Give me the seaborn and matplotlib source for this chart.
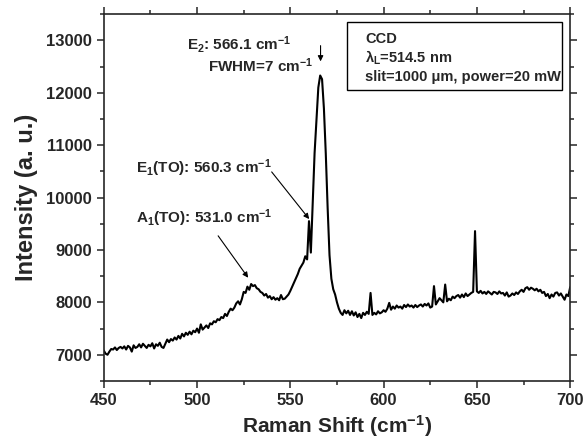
import matplotlib
matplotlib.use("Agg")
import matplotlib.pyplot as plt
from matplotlib.patches import Rectangle
import seaborn as sn
import pandas as pd

sn.set_style("ticks")
plt.rcParams["font.family"] = ["Liberation Sans", "DejaVu Sans"]
plt.rcParams["font.weight"] = "bold"
plt.rcParams["mathtext.fontset"] = "custom"
plt.rcParams["mathtext.rm"] = "Liberation Sans:bold"
plt.rcParams["mathtext.bf"] = "Liberation Sans:bold"
plt.rcParams["mathtext.it"] = "Liberation Sans:bold"
plt.rcParams["mathtext.default"] = "bf"

# Raman shift (cm-1), one point per wavenumber
shift = list(range(450, 701))

# intensity, rows of 10 points
intensity = [
    7080, 7020, 7000, 7060, 7110, 7100, 7140, 7090, 7130, 7150,
    7120, 7160, 7100, 7170, 7140, 7060, 7180, 7130, 7150, 7200,
    7140, 7210, 7170, 7130, 7190, 7160, 7220, 7120, 7200, 7170,
    7230, 7150, 7130, 7210, 7290, 7240, 7300, 7270, 7330, 7290,
    7360, 7310, 7400, 7350, 7420, 7380, 7440, 7390, 7460, 7430,
    7500, 7420, 7580, 7480, 7520, 7560, 7510, 7600, 7580, 7640,
    7620, 7680, 7660, 7720, 7700, 7780, 7740, 7820, 7880, 7850,
    7900, 7980, 8020, 7960, 8060, 8200, 8180, 8300, 8240, 8350,
    8310, 8330, 8270, 8250, 8200, 8180, 8130, 8160, 8090, 8120,
    8060, 8100, 8050, 8080, 8040, 8140, 8060, 8070, 8110, 8150,
    8220, 8300, 8380, 8460, 8540, 8640, 8700, 8760, 8880, 8820,
    9550, 8950, 9900, 10850, 11480, 12100, 12330, 12260, 11700, 10840,
    9800, 8900, 8450, 8250, 8150, 8000, 7880, 7800, 7760, 7850,
    7790, 7840, 7760, 7830, 7750, 7810, 7720, 7780, 7700, 7800,
    7760, 7820, 7780, 8180, 7760, 7800, 7770, 7830, 7790, 7810,
    7850, 7820, 7880, 7990, 7860, 7920, 7880, 7940, 7900, 7920,
    7880, 7950, 7910, 7960, 7920, 7940, 7900, 7950, 7910, 7940,
    7960, 7920, 7970, 7940, 7980, 7900, 7920, 8310, 7960, 8020,
    8080, 8040, 8000, 8340, 8020, 8070, 8040, 8110, 8080, 8120,
    8140, 8090, 8150, 8100, 8170, 8120, 8150, 8180, 8200, 9360,
    8210, 8180, 8220, 8170, 8200, 8160, 8210, 8180, 8150, 8200,
    8190, 8160, 8210, 8170, 8180, 8130, 8190, 8110, 8130, 8170,
    8140, 8190, 8160, 8210, 8240, 8200, 8270, 8290, 8240, 8280,
    8260, 8230, 8260, 8210, 8240, 8180, 8200, 8120, 8160, 8080,
    8150, 8110, 8180, 8190, 8130, 8170, 8110, 8050, 8150, 8120,
    8290,
]

x_ticks = [450, 500, 550, 600, 650, 700]
y_ticks = [7000, 8000, 9000, 10000, 11000, 12000, 13000]

info_lines = ["CCD", "λ$_L$=514.5 nm", "slit=1000 μm, power=20 mW"]

df = pd.DataFrame({"shift": shift, "intensity": intensity})

fig = plt.figure(figsize=(5.83, 4.44), dpi=100)
ax = fig.add_axes([0.178, 0.142, 0.800, 0.826])
sn.lineplot(data=df, x="shift", y="intensity", color="black", lw=1.5, ax=ax)

ax.set_xlim(450, 700)
ax.set_ylim(6500, 13500)
ax.set_xticks(x_ticks)
ax.set_yticks(y_ticks)
ax.set_xticks(range(475, 700, 50), minor=True)
ax.set_yticks(range(6500, 13501, 1000), minor=True)
ax.tick_params(which="both", direction="out", width=1.1, top=True, right=True,
               labelsize=12)
ax.tick_params(which="major", length=5)
ax.tick_params(which="minor", length=3)
for s in ax.spines.values():
    s.set_linewidth(1.2)
for lab in ax.get_xticklabels() + ax.get_yticklabels():
    lab.set_fontweight("bold")

ax.set_xlabel(r"Raman Shift (cm$^{-1}$)", fontsize=15, fontweight="bold", labelpad=4)
ax.set_ylabel("Intensity (a. u.)", fontsize=17, fontweight="bold", labelpad=6)

# peak labels
fs = 11
ax.text(494.5, 12920, r"E$_2$: 566.1 cm$^{-1}$", fontsize=fs, fontweight="bold", va="center")
ax.text(505.8, 12520, r"FWHM=7 cm$^{-1}$", fontsize=fs, fontweight="bold", va="center")
ax.text(467.2, 10560, r"E$_1$(TO): 560.3 cm$^{-1}$", fontsize=fs, fontweight="bold", va="center")
ax.text(467.2, 9600, r"A$_1$(TO): 531.0 cm$^{-1}$", fontsize=fs, fontweight="bold", va="center")

arrow = dict(arrowstyle="-|>", color="black", lw=0.8, mutation_scale=8, shrinkA=0, shrinkB=0)
ax.annotate("", xy=(566.2, 12600), xytext=(566.2, 12900), arrowprops=arrow)
ax.annotate("", xy=(560.1, 9590), xytext=(540.0, 10490), arrowprops=arrow)
ax.annotate("", xy=(527.4, 8470), xytext=(511.3, 9270), arrowprops=arrow)

# info box
ax.add_patch(Rectangle((0.521, 0.793), 0.462, 0.185, transform=ax.transAxes,
                       fill=False, edgecolor="black", lw=1.0))
for yy, txt in zip([0.932, 0.880, 0.828], info_lines):
    ax.text(0.56, yy, txt, transform=ax.transAxes, fontsize=10.5,
            fontweight="bold", va="center")

fig.savefig("out.png", dpi=100)
